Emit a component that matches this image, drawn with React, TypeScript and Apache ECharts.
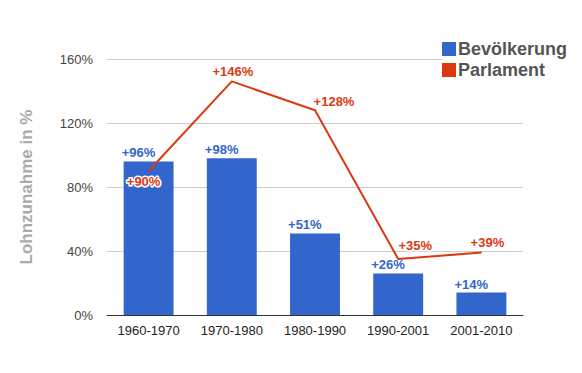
import React, { useEffect, useRef } from "react";
import * as echarts from "echarts";

const categories = ["1960-1970", "1970-1980", "1980-1990", "1990-2001", "2001-2010"];
const bevoelkerung = [96, 98, 51, 26, 14];
const parlament = [90, 146, 128, 35, 39];
const yTicks = [0, 40, 80, 120, 160];

const lineLabelPlacement: { position: any; offset: number[] }[] = [
  { position: "bottom", offset: [-5, -2] },
  { position: "top", offset: [1, 2] },
  { position: "top", offset: [19, 3] },
  { position: "top", offset: [17, -2] },
  { position: "top", offset: [6, 2] },
];

export default function App() {
  const ref = useRef<HTMLDivElement>(null);
  useEffect(() => {
    if (!ref.current) return;
    const chart = echarts.init(ref.current, undefined, { renderer: "svg" });
    const font = "Arial, 'Liberation Sans', sans-serif";
    chart.setOption({
      animation: false,
      textStyle: { fontFamily: font },
      grid: { left: 107, right: 59, top: 59, bottom: 58 },
      legend: {
        orient: "vertical",
        left: 442,
        top: 40,
        itemWidth: 14,
        itemHeight: 14,
        itemGap: 3,
        backgroundColor: "#fff",
        padding: [0, 4, 0, 0],
        textStyle: { fontSize: 18, fontWeight: "bold", color: "#555", fontFamily: font, padding: [0, 0, 0, -3] },
        data: [
          { name: "Bevölkerung", icon: "rect" },
          { name: "Parlament", icon: "rect" },
        ],
      },
      xAxis: {
        type: "category",
        data: categories,
        axisTick: { show: false },
        axisLine: { lineStyle: { color: "#333", width: 1 } },
        axisLabel: { color: "#222", fontSize: 13, margin: 9, fontFamily: font },
      },
      yAxis: {
        type: "value",
        min: yTicks[0],
        max: yTicks[yTicks.length - 1],
        interval: 40,
        name: "Lohnzunahme in %",
        nameLocation: "middle",
        nameGap: 72,
        nameTextStyle: { color: "#aaa", fontSize: 17, fontWeight: "bold", fontFamily: font },
        axisLine: { show: false },
        axisTick: { show: false },
        splitLine: { lineStyle: { color: "#ccc" } },
        axisLabel: { color: "#444", fontSize: 13, margin: 14, formatter: "{value}%", fontFamily: font },
      },
      series: [
        {
          name: "Bevölkerung",
          type: "bar",
          data: bevoelkerung,
          barWidth: "60%",
          itemStyle: { color: "#3366cc" },
          label: {
            show: true,
            position: [-2, -15],
            formatter: (p: any) => "+" + p.value + "%",
            color: "#3366cc",
            fontSize: 13,
            fontWeight: "bold",
            fontFamily: font,
          },
          z: 2,
        },
        {
          name: "Parlament",
          type: "line",
          data: parlament.map((v, i) => ({
            value: v,
            label: {
              position: lineLabelPlacement[i].position,
              offset: lineLabelPlacement[i].offset,
            },
          })),
          symbol: "circle",
          symbolSize: 1,
          itemStyle: { color: "#dc3912" },
          lineStyle: { color: "#dc3912", width: 2 },
          label: {
            show: true,
            formatter: (p: any) => "+" + p.value + "%",
            color: "#dc3912",
            fontSize: 13,
            fontWeight: "bold",
            fontFamily: font,
            textBorderColor: "#fff",
            textBorderWidth: 3,
          },
          z: 3,
        },
      ],
    });
    return () => chart.dispose();
  }, []);
  return <div ref={ref} style={{ width: 582, height: 373, margin: -8 }} />;
}
